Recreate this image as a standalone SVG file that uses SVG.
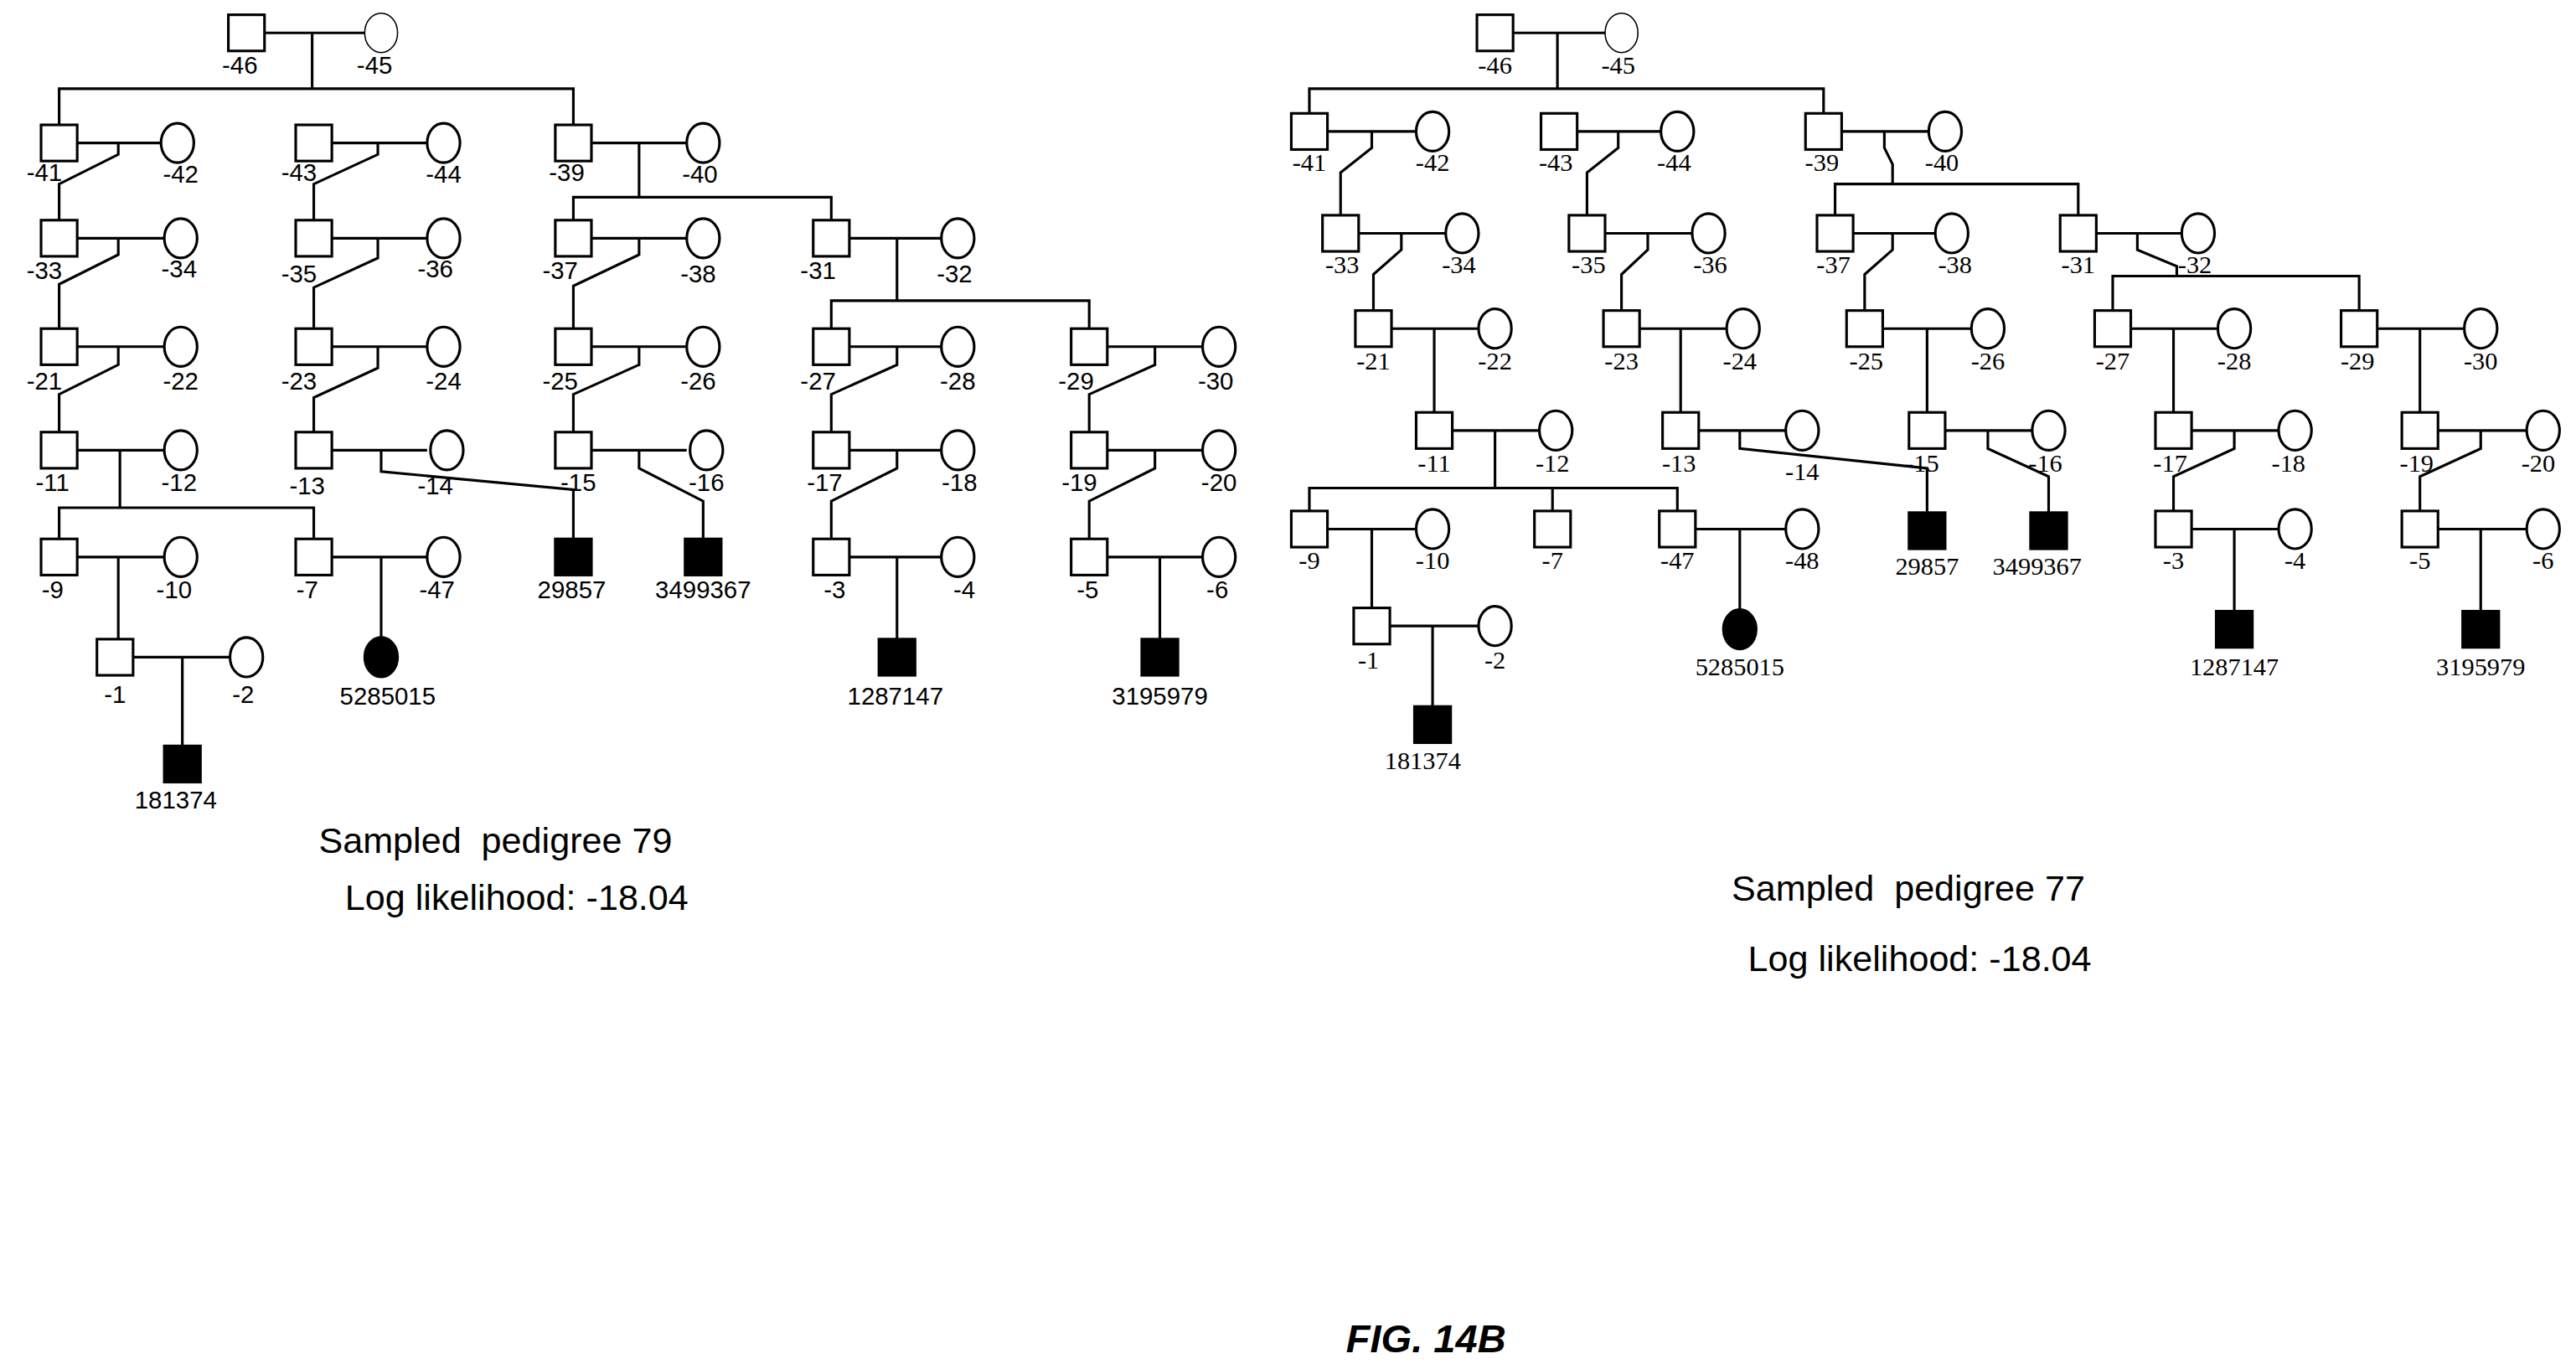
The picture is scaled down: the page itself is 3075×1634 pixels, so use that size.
<svg xmlns="http://www.w3.org/2000/svg" xmlns:xlink="http://www.w3.org/1999/xlink" width="3075" height="1634" viewBox="0 0 3075 1634">
<style>
.s{fill:#fff;stroke:#000;stroke-width:1.6}
.f{fill:#000;stroke:#000;stroke-width:1.6}
.c path{fill:none;stroke:#000;stroke-width:1.6}
.lt{font-family:"Liberation Sans",Arial,sans-serif;font-size:15px;text-anchor:middle}
.rt{font-family:"Liberation Serif","Times New Roman",serif;font-size:15.5px;text-anchor:middle}
.cap{font-family:"Liberation Sans",Arial,sans-serif;font-size:22px}
</style>
<defs>
<rect id="sq" x="-11" y="-11" width="22" height="22"/>
<ellipse id="ci" rx="10" ry="12"/>
</defs>
<rect width="3075" height="1634" fill="#fff"/>
<g transform="scale(1.9611)">
<g class="c">
<path d="M161 20H222M47 87H98M202 87H260M360 87H418M47 145H100M202 145H260M360 145H418M517 145H573M47 211H100M202 211H260M360 211H418M517 211H573M674 211H732M47 274H100M202 274H260M360 274H418M517 274H573M674 274H732M47 339H100M202 339H260M517 339H573M674 339H732M81 400H140"/>
<path d="M190 20V54M36 76V54H349V76M72 87V94L36 112V134M230 87V94L191 112V134M389 87V120M349 134V120H506V134M72 145V155L36 173V200M230 145V157L191 175V200M389 145V155L349 174V200M546 145V183M506 200V183H663V200M72 211V222L36 240V263M230 211V224L191 242V263M389 211V222L349 240V263M546 211V222L506 240V263M703 211V222L663 240V263M73 274V309M36 328V309H191V328M232 274V287L349 298V328M389 274V285L428 305V328M546 274V285L506 305V328M703 274V285L663 305V328M72 339V389M232 339V388M546 339V389M706 339V389M111 400V454"/>
<path d="M921 20H977M808 80H862M960 80H1011M1121 80H1174M827 142H880M977 142H1030M1128 142H1178M1276 142H1328M847 200H900M998 200H1051M1146 200H1200M1297 200H1350M1447 200H1500M884 262H937M1034 262H1087M1184 262H1237M1334 262H1387M1484 262H1538M808 322H862M1032 322H1087M1334 322H1387M1484 322H1538M846 381H900"/>
<path d="M948 20V54M797 69V54H1110V69M835 80V90L816 105V131M985 80V90L966 105V131M1147 80V90L1152 100V112M1117 131V112H1265V131M853 142V152L836 167V189M1003 142V152L987 167V189M1152 142V152L1135 167V189M1301 142V152L1325 162V168M1286 189V168H1436V189M873 200V251M1023 200V251M1173 200V251M1323 200V251M1473 200V251M910 262V297M797 311V297H1021V311M945 297V311M1059 262V273L1173 285V312M1210 262V273L1247 290V312M1360 262V273L1323 290V311M1510 262V273L1473 290V311M835 322V370M1059 322V371M1360 322V372M1510 322V372M872 381V430"/>
</g>
<g id="L-46"><use href="#sq" class="s" x="150" y="20"/><text class="lt" x="146" y="45">-46</text></g>
<g id="L-45"><use href="#ci" class="s" x="232" y="20" style="stroke-width:0.8"/><text class="lt" x="228" y="45">-45</text></g>
<g id="L-41"><use href="#sq" class="s" x="36" y="87"/><text class="lt" x="27" y="110">-41</text></g>
<g id="L-42"><use href="#ci" class="s" x="108" y="87"/><text class="lt" x="110" y="111">-42</text></g>
<g id="L-43"><use href="#sq" class="s" x="191" y="87"/><text class="lt" x="182" y="110">-43</text></g>
<g id="L-44"><use href="#ci" class="s" x="270" y="87"/><text class="lt" x="270" y="111">-44</text></g>
<g id="L-39"><use href="#sq" class="s" x="349" y="87"/><text class="lt" x="345" y="110">-39</text></g>
<g id="L-40"><use href="#ci" class="s" x="428" y="87"/><text class="lt" x="426" y="111">-40</text></g>
<g id="L-33"><use href="#sq" class="s" x="36" y="145"/><text class="lt" x="27" y="170">-33</text></g>
<g id="L-34"><use href="#ci" class="s" x="110" y="145"/><text class="lt" x="109" y="169">-34</text></g>
<g id="L-35"><use href="#sq" class="s" x="191" y="145"/><text class="lt" x="182" y="172">-35</text></g>
<g id="L-36"><use href="#ci" class="s" x="270" y="145"/><text class="lt" x="265" y="169">-36</text></g>
<g id="L-37"><use href="#sq" class="s" x="349" y="145"/><text class="lt" x="341" y="170">-37</text></g>
<g id="L-38"><use href="#ci" class="s" x="428" y="145"/><text class="lt" x="425" y="172">-38</text></g>
<g id="L-31"><use href="#sq" class="s" x="506" y="145"/><text class="lt" x="498" y="170">-31</text></g>
<g id="L-32"><use href="#ci" class="s" x="583" y="145"/><text class="lt" x="581" y="172">-32</text></g>
<g id="L-21"><use href="#sq" class="s" x="36" y="211"/><text class="lt" x="27" y="237">-21</text></g>
<g id="L-22"><use href="#ci" class="s" x="110" y="211"/><text class="lt" x="110" y="237">-22</text></g>
<g id="L-23"><use href="#sq" class="s" x="191" y="211"/><text class="lt" x="182" y="237">-23</text></g>
<g id="L-24"><use href="#ci" class="s" x="270" y="211"/><text class="lt" x="270" y="237">-24</text></g>
<g id="L-25"><use href="#sq" class="s" x="349" y="211"/><text class="lt" x="341" y="237">-25</text></g>
<g id="L-26"><use href="#ci" class="s" x="428" y="211"/><text class="lt" x="425" y="237">-26</text></g>
<g id="L-27"><use href="#sq" class="s" x="506" y="211"/><text class="lt" x="498" y="237">-27</text></g>
<g id="L-28"><use href="#ci" class="s" x="583" y="211"/><text class="lt" x="583" y="237">-28</text></g>
<g id="L-29"><use href="#sq" class="s" x="663" y="211"/><text class="lt" x="655" y="237">-29</text></g>
<g id="L-30"><use href="#ci" class="s" x="742" y="211"/><text class="lt" x="740" y="237">-30</text></g>
<g id="L-11"><use href="#sq" class="s" x="36" y="274"/><text class="lt" x="32" y="299">-11</text></g>
<g id="L-12"><use href="#ci" class="s" x="110" y="274"/><text class="lt" x="109" y="299">-12</text></g>
<g id="L-13"><use href="#sq" class="s" x="191" y="274"/><text class="lt" x="187" y="301">-13</text></g>
<g id="L-14"><use href="#ci" class="s" x="272" y="274"/><text class="lt" x="265" y="301">-14</text></g>
<g id="L-15"><use href="#sq" class="s" x="349" y="274"/><text class="lt" x="352" y="299">-15</text></g>
<g id="L-16"><use href="#ci" class="s" x="430" y="274"/><text class="lt" x="430" y="299">-16</text></g>
<g id="L-17"><use href="#sq" class="s" x="506" y="274"/><text class="lt" x="502" y="299">-17</text></g>
<g id="L-18"><use href="#ci" class="s" x="583" y="274"/><text class="lt" x="584" y="299">-18</text></g>
<g id="L-19"><use href="#sq" class="s" x="663" y="274"/><text class="lt" x="657" y="299">-19</text></g>
<g id="L-20"><use href="#ci" class="s" x="742" y="274"/><text class="lt" x="742" y="299">-20</text></g>
<g id="L-9"><use href="#sq" class="s" x="36" y="339"/><text class="lt" x="32" y="364">-9</text></g>
<g id="L-10"><use href="#ci" class="s" x="110" y="339"/><text class="lt" x="106" y="364">-10</text></g>
<g id="L-7"><use href="#sq" class="s" x="191" y="339"/><text class="lt" x="187" y="364">-7</text></g>
<g id="L-47"><use href="#ci" class="s" x="270" y="339"/><text class="lt" x="266" y="364">-47</text></g>
<g id="L-29857"><use href="#sq" class="f" x="349" y="339"/><text class="lt" x="348" y="364">29857</text></g>
<g id="L-3499367"><use href="#sq" class="f" x="428" y="339"/><text class="lt" x="428" y="364">3499367</text></g>
<g id="L-3"><use href="#sq" class="s" x="506" y="339"/><text class="lt" x="508" y="364">-3</text></g>
<g id="L-4"><use href="#ci" class="s" x="583" y="339"/><text class="lt" x="587" y="364">-4</text></g>
<g id="L-5"><use href="#sq" class="s" x="663" y="339"/><text class="lt" x="662" y="364">-5</text></g>
<g id="L-6"><use href="#ci" class="s" x="742" y="339"/><text class="lt" x="741" y="364">-6</text></g>
<g id="L-1"><use href="#sq" class="s" x="70" y="400"/><text class="lt" x="70" y="428">-1</text></g>
<g id="L-2"><use href="#ci" class="s" x="150" y="400"/><text class="lt" x="148" y="428">-2</text></g>
<g id="L-5285015"><use href="#ci" class="f" x="232" y="400"/><text class="lt" x="236" y="429">5285015</text></g>
<g id="L-1287147"><use href="#sq" class="f" x="546" y="400"/><text class="lt" x="545" y="429">1287147</text></g>
<g id="L-3195979"><use href="#sq" class="f" x="706" y="400"/><text class="lt" x="706" y="429">3195979</text></g>
<g id="L-181374"><use href="#sq" class="f" x="111" y="465"/><text class="lt" x="107" y="492">181374</text></g>
<text class="cap" x="194" y="519" xml:space="preserve">Sampled  pedigree 79</text>
<text class="cap" x="210" y="554">Log likelihood: -18.04</text>
<g id="R-46"><use href="#sq" class="s" x="910" y="20"/><text class="rt" x="910" y="45">-46</text></g>
<g id="R-45"><use href="#ci" class="s" x="987" y="20" style="stroke-width:0.8"/><text class="rt" x="985" y="45">-45</text></g>
<g id="R-41"><use href="#sq" class="s" x="797" y="80"/><text class="rt" x="797" y="104">-41</text></g>
<g id="R-42"><use href="#ci" class="s" x="872" y="80"/><text class="rt" x="872" y="104">-42</text></g>
<g id="R-43"><use href="#sq" class="s" x="949" y="80"/><text class="rt" x="947" y="104">-43</text></g>
<g id="R-44"><use href="#ci" class="s" x="1021" y="80"/><text class="rt" x="1019" y="104">-44</text></g>
<g id="R-39"><use href="#sq" class="s" x="1110" y="80"/><text class="rt" x="1109" y="104">-39</text></g>
<g id="R-40"><use href="#ci" class="s" x="1184" y="80"/><text class="rt" x="1182" y="104">-40</text></g>
<g id="R-33"><use href="#sq" class="s" x="816" y="142"/><text class="rt" x="817" y="166">-33</text></g>
<g id="R-34"><use href="#ci" class="s" x="890" y="142"/><text class="rt" x="888" y="166">-34</text></g>
<g id="R-35"><use href="#sq" class="s" x="966" y="142"/><text class="rt" x="967" y="166">-35</text></g>
<g id="R-36"><use href="#ci" class="s" x="1040" y="142"/><text class="rt" x="1041" y="166">-36</text></g>
<g id="R-37"><use href="#sq" class="s" x="1117" y="142"/><text class="rt" x="1116" y="166">-37</text></g>
<g id="R-38"><use href="#ci" class="s" x="1188" y="142"/><text class="rt" x="1190" y="166">-38</text></g>
<g id="R-31"><use href="#sq" class="s" x="1265" y="142"/><text class="rt" x="1265" y="166">-31</text></g>
<g id="R-32"><use href="#ci" class="s" x="1338" y="142"/><text class="rt" x="1336" y="166">-32</text></g>
<g id="R-21"><use href="#sq" class="s" x="836" y="200"/><text class="rt" x="836" y="225">-21</text></g>
<g id="R-22"><use href="#ci" class="s" x="910" y="200"/><text class="rt" x="910" y="225">-22</text></g>
<g id="R-23"><use href="#sq" class="s" x="987" y="200"/><text class="rt" x="987" y="225">-23</text></g>
<g id="R-24"><use href="#ci" class="s" x="1061" y="200"/><text class="rt" x="1059" y="225">-24</text></g>
<g id="R-25"><use href="#sq" class="s" x="1135" y="200"/><text class="rt" x="1136" y="225">-25</text></g>
<g id="R-26"><use href="#ci" class="s" x="1210" y="200"/><text class="rt" x="1210" y="225">-26</text></g>
<g id="R-27"><use href="#sq" class="s" x="1286" y="200"/><text class="rt" x="1286" y="225">-27</text></g>
<g id="R-28"><use href="#ci" class="s" x="1360" y="200"/><text class="rt" x="1360" y="225">-28</text></g>
<g id="R-29"><use href="#sq" class="s" x="1436" y="200"/><text class="rt" x="1435" y="225">-29</text></g>
<g id="R-30"><use href="#ci" class="s" x="1510" y="200"/><text class="rt" x="1510" y="225">-30</text></g>
<g id="R-11"><use href="#sq" class="s" x="873" y="262"/><text class="rt" x="873" y="287">-11</text></g>
<g id="R-12"><use href="#ci" class="s" x="947" y="262"/><text class="rt" x="945" y="287">-12</text></g>
<g id="R-13"><use href="#sq" class="s" x="1023" y="262"/><text class="rt" x="1022" y="287">-13</text></g>
<g id="R-14"><use href="#ci" class="s" x="1097" y="262"/><text class="rt" x="1097" y="292">-14</text></g>
<g id="R-15"><use href="#sq" class="s" x="1173" y="262"/><text class="rt" x="1170" y="287">-15</text></g>
<g id="R-16"><use href="#ci" class="s" x="1247" y="262"/><text class="rt" x="1245" y="287">-16</text></g>
<g id="R-17"><use href="#sq" class="s" x="1323" y="262"/><text class="rt" x="1321" y="287">-17</text></g>
<g id="R-18"><use href="#ci" class="s" x="1397" y="262"/><text class="rt" x="1393" y="287">-18</text></g>
<g id="R-19"><use href="#sq" class="s" x="1473" y="262"/><text class="rt" x="1471" y="287">-19</text></g>
<g id="R-20"><use href="#ci" class="s" x="1548" y="262"/><text class="rt" x="1545" y="287">-20</text></g>
<g id="R-9"><use href="#sq" class="s" x="797" y="322"/><text class="rt" x="797" y="346">-9</text></g>
<g id="R-10"><use href="#ci" class="s" x="872" y="322"/><text class="rt" x="872" y="346">-10</text></g>
<g id="R-7"><use href="#sq" class="s" x="945" y="322"/><text class="rt" x="945" y="346">-7</text></g>
<g id="R-47"><use href="#sq" class="s" x="1021" y="322"/><text class="rt" x="1021" y="346">-47</text></g>
<g id="R-48"><use href="#ci" class="s" x="1097" y="322"/><text class="rt" x="1097" y="346">-48</text></g>
<g id="R-29857"><use href="#sq" class="f" x="1173" y="323"/><text class="rt" x="1173" y="350">29857</text></g>
<g id="R-3499367"><use href="#sq" class="f" x="1247" y="323"/><text class="rt" x="1240" y="350">3499367</text></g>
<g id="R-3"><use href="#sq" class="s" x="1323" y="322"/><text class="rt" x="1323" y="346">-3</text></g>
<g id="R-4"><use href="#ci" class="s" x="1397" y="322"/><text class="rt" x="1397" y="346">-4</text></g>
<g id="R-5"><use href="#sq" class="s" x="1473" y="322"/><text class="rt" x="1473" y="346">-5</text></g>
<g id="R-6"><use href="#ci" class="s" x="1548" y="322"/><text class="rt" x="1548" y="346">-6</text></g>
<g id="R-1"><use href="#sq" class="s" x="835" y="381"/><text class="rt" x="833" y="407">-1</text></g>
<g id="R-2"><use href="#ci" class="s" x="910" y="381"/><text class="rt" x="910" y="407">-2</text></g>
<g id="R-5285015"><use href="#ci" class="f" x="1059" y="383"/><text class="rt" x="1059" y="411">5285015</text></g>
<g id="R-1287147"><use href="#sq" class="f" x="1360" y="383"/><text class="rt" x="1360" y="411">1287147</text></g>
<g id="R-3195979"><use href="#sq" class="f" x="1510" y="383"/><text class="rt" x="1510" y="411">3195979</text></g>
<g id="R-181374"><use href="#sq" class="f" x="872" y="441"/><text class="rt" x="866" y="468">181374</text></g>
<text class="cap" x="1054" y="548" xml:space="preserve">Sampled  pedigree 77</text>
<text class="cap" x="1064" y="591">Log likelihood: -18.04</text>
<text x="868" y="823" style="font-family:'Liberation Sans',Arial,sans-serif;font-size:24px;font-weight:bold;font-style:italic;text-anchor:middle">FIG. 14B</text>
</g>
</svg>
